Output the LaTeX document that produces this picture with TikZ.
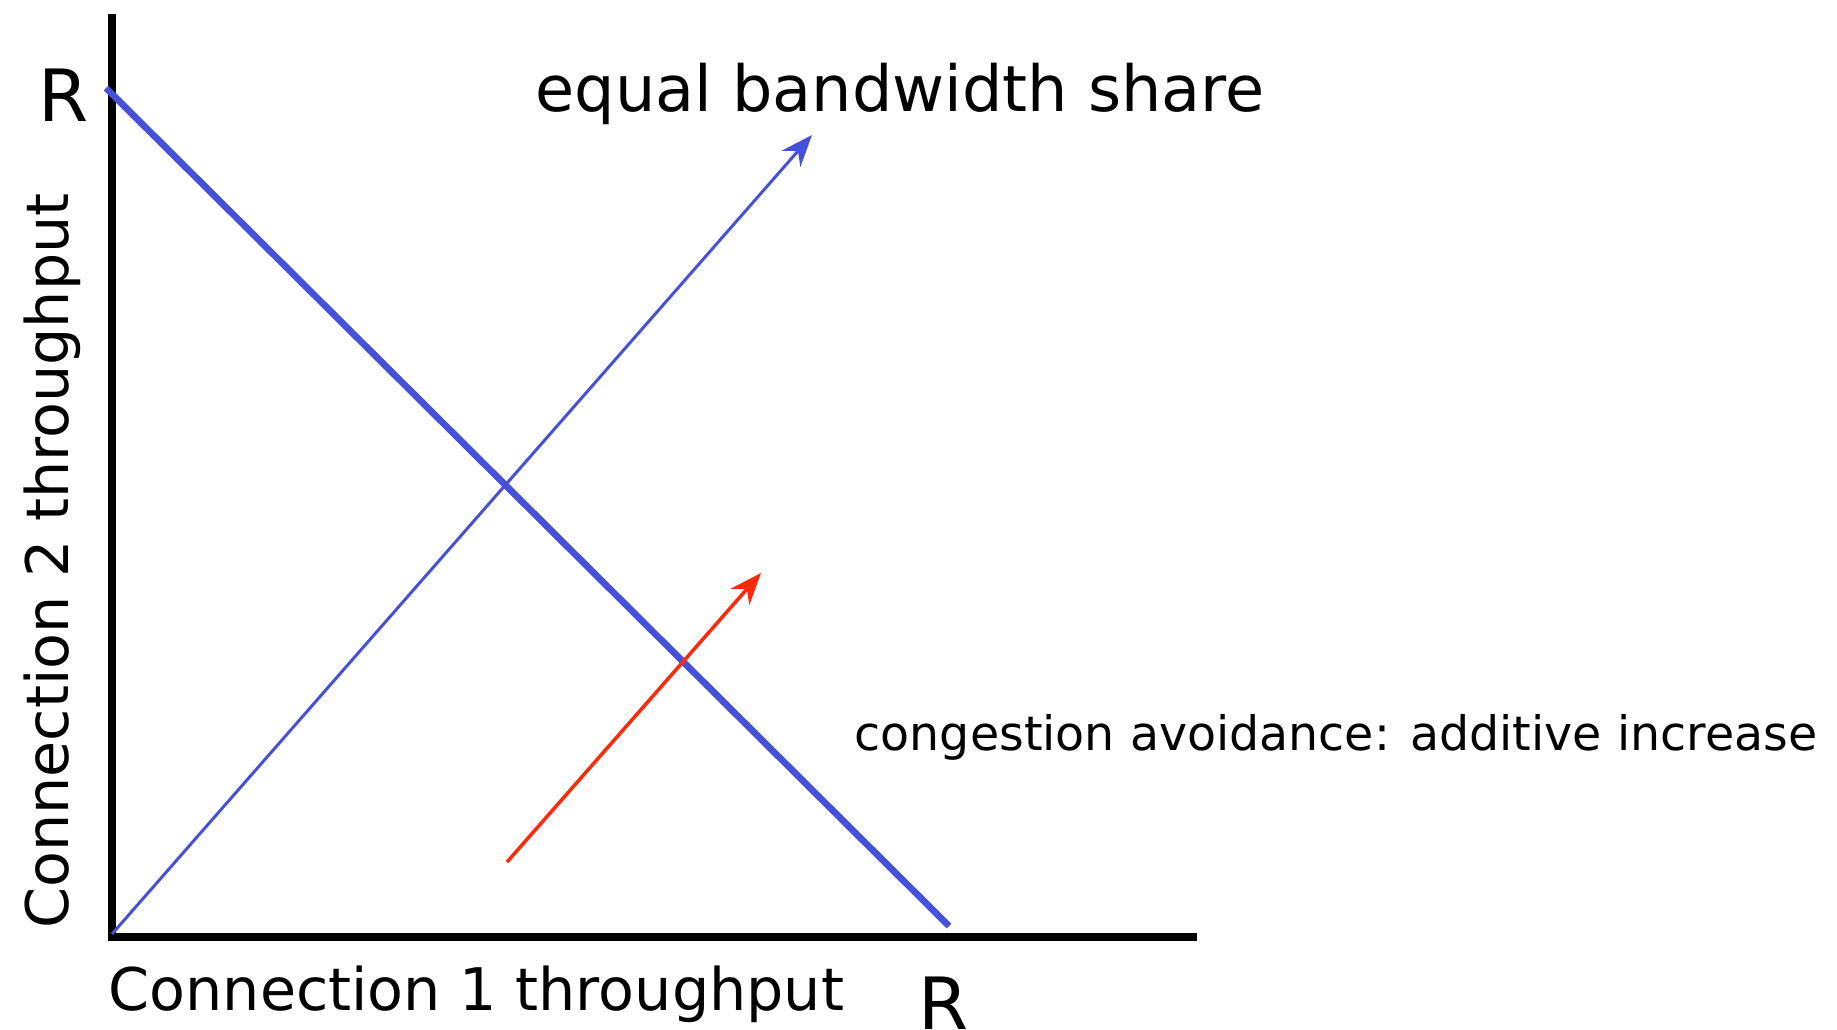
\documentclass[tikz,border=0pt]{standalone}
\usepackage{fontspec}
\setmainfont{DejaVu Sans}
\usepackage{tikz}
\usetikzlibrary{arrows.meta}
\definecolor{aimdblue}{HTML}{4650D8}
\definecolor{aimdred}{HTML}{FF2A0A}

\begin{document}
\begin{tikzpicture}[x=0.01cm, y=-0.01cm,
  axisline/.style={draw=black,line width=2.2pt},
  capline/.style={draw=aimdblue,line width=1.9pt},
  fairline/.style={draw=aimdblue,line width=0.85pt,-{Stealth[length=9pt,width=7pt]}},
  aistep/.style={draw=aimdred,line width=1pt,-{Stealth[length=9pt,width=7pt]}},
  bigtxt/.style={inner sep=0pt,font=\fontsize{18.1}{20}\selectfont},
  axtxt/.style={inner sep=0pt,font=\fontsize{16.7}{20}\selectfont},
  smalltxt/.style={inner sep=0pt,font=\fontsize{13.5}{16}\selectfont}]
\useasboundingbox (0,0) rectangle (1837,1029);
\coordinate (origin) at (112,937);
\coordinate (ytop) at (112,14);
\coordinate (xend) at (1197,937);
\coordinate (capa) at (106,88);
\coordinate (capb) at (949,926);
\coordinate (faira) at (112,934);
\coordinate (fairb) at (812,135);
\coordinate (aia) at (507,862);
\coordinate (aib) at (761,573);
\draw[axisline] (ytop) -- (origin) -- (xend);
\draw[capline] (capa) -- (capb);
\draw[fairline] (faira) -- (fairb);
\draw[aistep] (aia) -- (aib);
\node[bigtxt,anchor=base] (rtop) at (64,121) {\fontsize{20.5}{22}\selectfont R};
\node[bigtxt,anchor=base] (rright) at (944,1029) {\fontsize{20.5}{22}\selectfont R};
\node[bigtxt,anchor=base] (share) at (900,111) {equal bandwidth share};
\node[axtxt,anchor=base west] (xlabel) at (108,1010) {Connection 1 throughput};
\node[axtxt,anchor=base,rotate=90] (ylabel) at (68,561) {Connection 2 throughput};
\node[smalltxt,anchor=base west] (aitxt) at (854,750) {congestion avoidance: additive increase};
\end{tikzpicture}
\end{document}
